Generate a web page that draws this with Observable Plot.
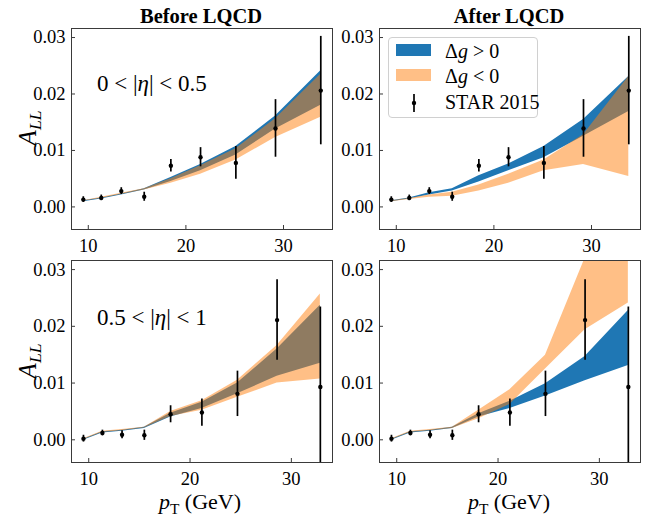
<!DOCTYPE html>
<html><head><meta charset="utf-8">
<script src="https://cdn.jsdelivr.net/npm/d3@7"></script>
<script src="https://cdn.jsdelivr.net/npm/@observablehq/plot@0.6"></script>
<style>
body{margin:0;background:#fff;}
#wrap{position:relative;width:650px;height:520px;font-family:"Liberation Serif",serif;color:#000;background:#fff;overflow:hidden;}
.panel{position:absolute;}
.lbl{position:absolute;white-space:nowrap;line-height:1;}
.title{font-weight:bold;font-size:20.5px;transform:translate(-50%,-50%);}
.ylab{font-size:25px;transform:translate(-50%,-50%) rotate(-90deg);}
.xlab{font-size:22px;transform:translate(-50%,-50%);}
.eta{font-size:23px;transform:translate(0,-50%);}
sub{font-size:70%;vertical-align:-0.3em;line-height:0;}
#legend{position:absolute;left:388px;top:37px;width:148px;height:79px;border:1px solid #d0d0d0;border-radius:4px;background:rgba(255,255,255,0.85);}
#legend .sw{position:absolute;left:7px;width:35px;height:12px;}
#legend .tx{position:absolute;left:56px;font-size:20px;line-height:1;transform:translateY(-50%);white-space:nowrap;}
</style></head><body><div id="wrap"></div>
<script>
// ---- axes ----
const xTicks = [10, 20, 30];
const yTicks = [0, 0.01, 0.02, 0.03];
const yDomain = [-0.004, 0.0316];
const xDomainTop = [8.28, 35.02];
const xDomainBottom = [8.3, 34.06];

// ---- STAR 2015 data, 0 < |eta| < 0.5 ----
const topX   = [9.49, 11.33, 13.38, 15.73, 18.46, 21.5, 25.12, 29.18, 33.82];
const topY   = [0.0013, 0.0016, 0.0028, 0.0018, 0.0073, 0.0088, 0.0078, 0.0139, 0.0206];
const topErr = [0.0005, 0.0005, 0.0006, 0.0008, 0.0011, 0.0017, 0.0029, 0.0051, 0.0096];

// ---- STAR 2015 data, 0.5 < |eta| < 1 ----
const botX   = [9.48, 11.35, 13.29, 15.49, 18.08, 21.17, 24.68, 28.59, 32.86];
const botY   = [0.0002, 0.0012, 0.0009, 0.0008, 0.0045, 0.0048, 0.0081, 0.0211, 0.0093];
const botErr = [0.0006, 0.0005, 0.0007, 0.0009, 0.0015, 0.0024, 0.0040, 0.0071, 0.0141];

// ---- Before LQCD, 0 < |eta| < 0.5 ----
const tlBlueLo = [0.0009, 0.0014, 0.0021, 0.0030, 0.0045, 0.0064, 0.0092, 0.0138, 0.0180];
const tlBlueHi = [0.0011, 0.0016, 0.0023, 0.0032, 0.0052, 0.0075, 0.0107, 0.0161, 0.0241];
const tlOrLo   = [0.0010, 0.0015, 0.0022, 0.0030, 0.0042, 0.0058, 0.0083, 0.0123, 0.0159];
const tlOrHi   = [0.0011, 0.0017, 0.0024, 0.0032, 0.0050, 0.0073, 0.0103, 0.0156, 0.0235];

// ---- After LQCD, 0 < |eta| < 0.5 ----
const trBlueLo = [0.0009, 0.0014, 0.0021, 0.0028, 0.0044, 0.0064, 0.0087, 0.0125, 0.0169];
const trBlueHi = [0.0011, 0.0016, 0.0025, 0.0032, 0.0055, 0.0076, 0.0107, 0.0155, 0.0231];
const trOrLo   = [0.0009, 0.0013, 0.0017, 0.0019, 0.0028, 0.0042, 0.0064, 0.0075, 0.0054];
const trOrHi   = [0.0011, 0.0015, 0.0021, 0.0026, 0.0039, 0.0058, 0.0083, 0.0128, 0.0231];

// ---- Before LQCD, 0.5 < |eta| < 1 ----
const blBlueLo = [-0.0001, 0.0012, 0.0015, 0.0020, 0.0040, 0.0055, 0.0081, 0.0112, 0.0135];
const blBlueHi = [0.0001, 0.0014, 0.0017, 0.0022, 0.0047, 0.0066, 0.0100, 0.0160, 0.0237];
const blOrLo   = [0.0000, 0.0013, 0.0016, 0.0021, 0.0041, 0.0052, 0.0075, 0.0100, 0.0107];
const blOrHi   = [0.0002, 0.0015, 0.0018, 0.0022, 0.0050, 0.0069, 0.0105, 0.0166, 0.0257];

// ---- After LQCD, 0.5 < |eta| < 1 ----
const brBlueLo = [-0.0001, 0.0012, 0.0015, 0.0020, 0.0040, 0.0055, 0.0077, 0.0104, 0.0131];
const brBlueHi = [0.0001, 0.0014, 0.0017, 0.0022, 0.0046, 0.0068, 0.0099, 0.0147, 0.0228];
const brOrLo   = [0.0000, 0.0013, 0.0016, 0.0020, 0.0037, 0.0062, 0.0125, 0.0194, 0.0241];
const brOrHi   = [0.0002, 0.0015, 0.0018, 0.0022, 0.0052, 0.0088, 0.0149, 0.0320, 0.0420];

const BLUE = "#1f77b4", ORANGE = "#ff7f0e", FRAME = "#3a3a3a";

function panel(o) {
  const rows = o.x.map((xi, i) => ({
    x: xi, y: o.y[i], lo: o.y[i] - o.err[i], hi: o.y[i] + o.err[i],
    blo: o.bLo[i], bhi: o.bHi[i], olo: o.oLo[i], ohi: o.oHi[i]
  }));
  const fw = o.width - o.mL - o.mR, fh = o.height - o.mT - o.mB;
  const svg = Plot.plot({
    width: o.width, height: o.height,
    marginLeft: o.mL, marginRight: o.mR, marginTop: o.mT, marginBottom: o.mB,
    x: {domain: o.xDomain, label: null},
    y: {domain: yDomain, label: null},
    style: {background: "transparent", overflow: "visible", fontFamily: "Liberation Serif, serif", fontSize: "18.5px", color: "#000"},
    marks: [
      Plot.areaY(rows, {x: "x", y1: "blo", y2: "bhi", fill: BLUE, clip: true}),
      Plot.areaY(rows, {x: "x", y1: "olo", y2: "ohi", fill: ORANGE, fillOpacity: 0.5, clip: true}),
      Plot.ruleX(rows, {x: "x", y1: "lo", y2: "hi", stroke: "#000", strokeWidth: 1.7, clip: true}),
      Plot.dot(rows, {x: "x", y: "y", r: 2.2, fill: "#000", stroke: null}),
      Plot.ruleX(xTicks, {insetTop: fh - 4, stroke: FRAME}),
      Plot.ruleY(yTicks, {insetRight: fw - 4, stroke: FRAME}),
      Plot.axisX(xTicks, {tickSize: 0, tickPadding: 9, label: null, tickFormat: d => String(d), fontSize: 18.5}),
      Plot.axisY(yTicks, {tickSize: 0, tickPadding: 6, label: null, tickFormat: d3.format(".2f"), fontSize: 18.5}),
      Plot.frame({stroke: FRAME, strokeWidth: 1})
    ]
  });
  svg.classList.add("panel");
  svg.style.left = o.left + "px";
  svg.style.top = o.top + "px";
  return svg;
}

const wrap = document.getElementById("wrap");
wrap.appendChild(panel({x: topX, y: topY, err: topErr, bLo: tlBlueLo, bHi: tlBlueHi, oLo: tlOrLo, oHi: tlOrHi,
  xDomain: xDomainTop, left: 0, top: 0, width: 335, height: 255, mL: 71, mR: 3, mT: 28, mB: 26}));
wrap.appendChild(panel({x: topX, y: topY, err: topErr, bLo: trBlueLo, bHi: trBlueHi, oLo: trOrLo, oHi: trOrHi,
  xDomain: xDomainTop, left: 335, top: 0, width: 315, height: 255, mL: 44, mR: 10, mT: 28, mB: 26}));
wrap.appendChild(panel({x: botX, y: botY, err: botErr, bLo: blBlueLo, bHi: blBlueHi, oLo: blOrLo, oHi: blOrHi,
  xDomain: xDomainBottom, left: 0, top: 255, width: 335, height: 265, mL: 71, mR: 3, mT: 5, mB: 58}));
wrap.appendChild(panel({x: botX, y: botY, err: botErr, bLo: brBlueLo, bHi: brBlueHi, oLo: brOrLo, oHi: brOrHi,
  xDomain: xDomainBottom, left: 335, top: 255, width: 315, height: 265, mL: 44, mR: 10, mT: 5, mB: 58}));

function label(html, cls, x, y) {
  const d = document.createElement("div");
  d.className = "lbl " + cls;
  d.style.left = x + "px"; d.style.top = y + "px";
  d.innerHTML = html;
  wrap.appendChild(d);
}
label("Before LQCD", "title", 201, 16);
label("After LQCD", "title", 509, 16);
label("<i>A</i><sub><i>LL</i></sub>", "ylab", 27, 128);
label("<i>A</i><sub><i>LL</i></sub>", "ylab", 27, 361);
label("<i>p</i><sub>T</sub> (GeV)", "xlab", 200, 502);
label("<i>p</i><sub>T</sub> (GeV)", "xlab", 509, 502);
label("0 &lt; |<i>η</i>| &lt; 0.5", "eta", 97, 83);
label("0.5 &lt; |<i>η</i>| &lt; 1", "eta", 97, 317);

const lg = document.createElement("div");
lg.id = "legend";
lg.innerHTML = `
  <div class="sw" style="top:6px;background:${BLUE}"></div>
  <div class="tx" style="top:13px">Δ<i>g</i> &gt; 0</div>
  <div class="sw" style="top:31px;background:${ORANGE};opacity:0.5"></div>
  <div class="tx" style="top:38px">Δ<i>g</i> &lt; 0</div>
  <svg style="position:absolute;left:18px;top:54px" width="14" height="22"><line x1="7" x2="7" y1="2" y2="20" stroke="#000" stroke-width="1.7"/><circle cx="7" cy="11" r="2.2" fill="#000"/></svg>
  <div class="tx" style="top:64px">STAR 2015</div>`;
wrap.appendChild(lg);
</script></body></html>
